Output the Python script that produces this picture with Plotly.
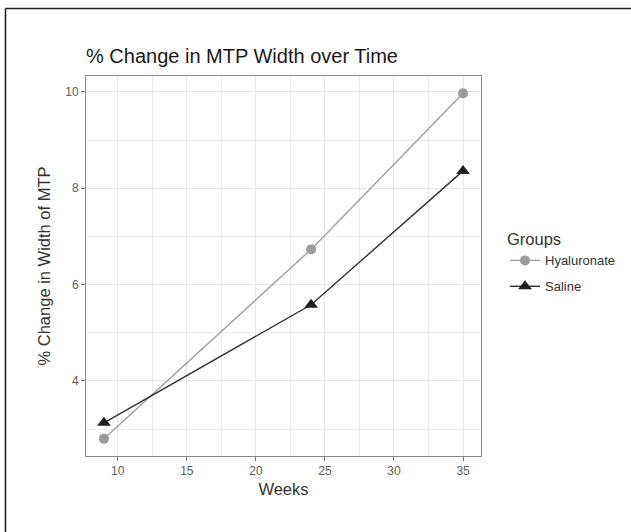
import plotly.graph_objects as go

weeks = [9, 24, 35]
hyaluronate = [2.80, 6.73, 9.97]
saline = [3.13, 5.58, 8.36]
group_names = ["Hyaluronate", "Saline"]
x_ticks = [10, 15, 20, 25, 30, 35]
y_ticks = [4, 6, 8, 10]

FONT = "Liberation Sans, Arial, Helvetica, sans-serif"

fig = go.Figure()
fig.add_trace(go.Scatter(
    x=weeks, y=hyaluronate, name=group_names[0], mode="lines+markers",
    legendgroup="g1",
    line=dict(color="#a0a0a0", width=1.4),
    marker=dict(symbol="circle", size=10, color="#9c9c9c"),
))
fig.add_trace(go.Scatter(
    x=weeks, y=saline, name=group_names[1], mode="lines+markers",
    legendgroup="g2",
    line=dict(color="#333333", width=1.4),
    marker=dict(symbol="triangle-up", size=12, color="#1f1f1f"),
))

L, R, T, B = 86, 150, 76, 76
W, H = 631, 532
pw, ph = W - L - R, H - T - B

def px_x(p):
    return (p - L) / pw

def px_y(p):
    return (H - B - p) / ph

fig.update_layout(
    width=W, height=H,
    margin=dict(l=L, r=R, t=T, b=B, autoexpand=False),
    paper_bgcolor="white", plot_bgcolor="white",
    font=dict(family=FONT, color="#222222"),
    title=dict(text="% Change in MTP Width over Time", x=0, xref="paper", xanchor="left",
               y=1 - 56 / H, yref="container", yanchor="middle",
               font=dict(size=20, color="#1a1a1a", family=FONT)),
    xaxis=dict(
        range=[7.7, 36.3], tickvals=x_ticks, ticktext=[str(v) for v in x_ticks],
        showgrid=True, gridcolor="#e6e6e6", gridwidth=1.4,
        minor=dict(showgrid=True, gridcolor="#ededed", gridwidth=1, dtick=2.5, tick0=7.5),
        ticks="outside", ticklen=4, tickcolor="#777777", tickwidth=1,
        tickfont=dict(size=12, color="#5e5e5e"),
        showline=True, linecolor="#888888", linewidth=1, mirror=True,
        zeroline=False,
        title=dict(text="Weeks", font=dict(size=16.5, color="#333333"), standoff=6),
    ),
    yaxis=dict(
        range=[2.44, 10.33], tickvals=y_ticks, ticktext=[str(v) for v in y_ticks],
        showgrid=True, gridcolor="#e6e6e6", gridwidth=1.4,
        minor=dict(showgrid=True, gridcolor="#ededed", gridwidth=1, dtick=1, tick0=3),
        ticks="outside", ticklen=4, tickcolor="#777777", tickwidth=1,
        tickfont=dict(size=12, color="#5e5e5e"),
        showline=True, linecolor="#888888", linewidth=1, mirror=True,
        zeroline=False,
        title=dict(text="% Change in Width of MTP", font=dict(size=16.5, color="#333333"), standoff=10),
    ),
    legend=dict(
        x=px_x(505), y=px_y(224), xanchor="left", yanchor="top",
        title=dict(text="Groups", font=dict(size=16.5, color="#333333")),
        font=dict(size=13, color="#333333"),
        bgcolor="rgba(0,0,0,0)", tracegroupgap=6,
    ),
    showlegend=True,
)

# outer image frame (top and left edges visible)
fig.add_shape(type="line", xref="paper", yref="paper",
              x0=px_x(5.5), x1=px_x(640), y0=px_y(8.5), y1=px_y(8.5),
              line=dict(color="#222222", width=1.6))
fig.add_shape(type="line", xref="paper", yref="paper",
              x0=px_x(5.5), x1=px_x(5.5), y0=px_y(8.5), y1=px_y(540),
              line=dict(color="#222222", width=1.6))

fig.write_html("out.html")
